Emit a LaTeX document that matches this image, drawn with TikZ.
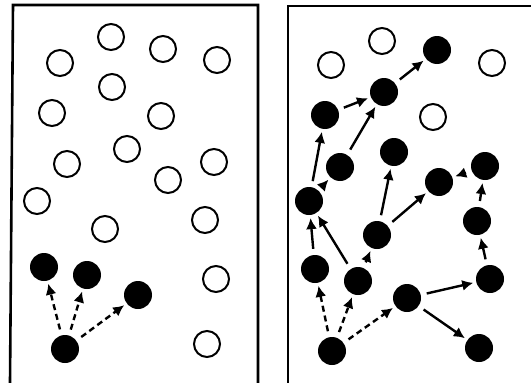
\documentclass[tikz,border=0pt]{standalone}
\usepackage{tikz}
\usetikzlibrary{arrows.meta}

\begin{document}
\begin{tikzpicture}[x=1pt, y=-1pt, >={Latex[length=11pt,width=11pt]},
  free/.style={circle, draw, line width=2pt, minimum size=26pt, inner sep=0pt},
  hit/.style={circle, fill, minimum size=28pt, inner sep=0pt},
  jump/.style={->, line width=2.4pt, shorten >=3pt, shorten <=6pt},
  seed/.style={jump, dash pattern=on 6pt off 4pt}]
  \useasboundingbox (0,0) rectangle (531,383);
  % panels
  \draw[line width=2.6pt] (10,383) -- (13,5) -- (258,5) -- (258,383);
  \draw[line width=2.6pt] (288,383) -- (288,6) -- (531,6);
  % left panel: untouched sites
  \node[free] (u1) at (111,37) {};
  \node[free] (u2) at (163,49) {};
  \node[free] (u3) at (217,60) {};
  \node[free] (u4) at (60,63) {};
  \node[free] (u5) at (112,87) {};
  \node[free] (u6) at (52,113) {};
  \node[free] (u7) at (161,116) {};
  \node[free] (u8) at (127,149) {};
  \node[free] (u9) at (67,164) {};
  \node[free] (u10) at (214,162) {};
  \node[free] (u11) at (168,180) {};
  \node[free] (u12) at (37,201) {};
  \node[free] (u13) at (105,229) {};
  \node[free] (u14) at (205,220) {};
  \node[free] (u15) at (216,279) {};
  \node[free] (u16) at (207,344) {};
  % left panel: first step
  \node[hit] (s0) at (65,349) {};
  \node[hit] (s1) at (44,267) {};
  \node[hit] (s2) at (87,275) {};
  \node[hit] (s3) at (138,295) {};
  \draw[seed] (s0) to (s1);
  \draw[seed] (s0) to (s2);
  \draw[seed] (s0) to (s3);
  % right panel: untouched sites
  \node[free] (v1) at (382,41) {};
  \node[free] (v2) at (331,65) {};
  \node[free] (v3) at (492,63) {};
  \node[free] (v4) at (433,117) {};
  % right panel: spread
  \node[hit] (t0) at (332,351) {};
  \node[hit] (tJ) at (315,269) {};
  \node[hit] (tK) at (358,281) {};
  \node[hit] (tL) at (407,298) {};
  \node[hit] (tH) at (309,201) {};
  \node[hit] (tI) at (377,235) {};
  \node[hit] (tN) at (490,279) {};
  \node[hit] (tP) at (479,348) {};
  \node[hit] (tM) at (477,221) {};
  \node[hit] (tF) at (485,166) {};
  \node[hit] (tG) at (439,182) {};
  \node[hit] (tE) at (394,152) {};
  \node[hit] (tD) at (340,167) {};
  \node[hit] (tC) at (325,115) {};
  \node[hit] (tB) at (384,92) {};
  \node[hit] (tA) at (437,50) {};
  \draw[seed] (t0) to (tJ);
  \draw[seed] (t0) to (tK);
  \draw[seed] (t0) to (tL);
  \draw[jump] (tJ) to (tH);
  \draw[jump] (tK) to (tH);
  \draw[jump] (tK) to (tI);
  \draw[jump] (tL) to (tN);
  \draw[jump] (tL) to (tP);
  \draw[jump] (tN) to (tM);
  \draw[jump] (tM) to (tF);
  \draw[jump] (tF) to (tG);
  \draw[jump] (tI) to (tG);
  \draw[jump] (tI) to (tE);
  \draw[jump] (tH) to (tD);
  \draw[jump] (tH) to (tC);
  \draw[jump] (tD) to (tB);
  \draw[jump] (tC) to (tB);
  \draw[jump] (tB) to (tA);
\end{tikzpicture}
\end{document}
